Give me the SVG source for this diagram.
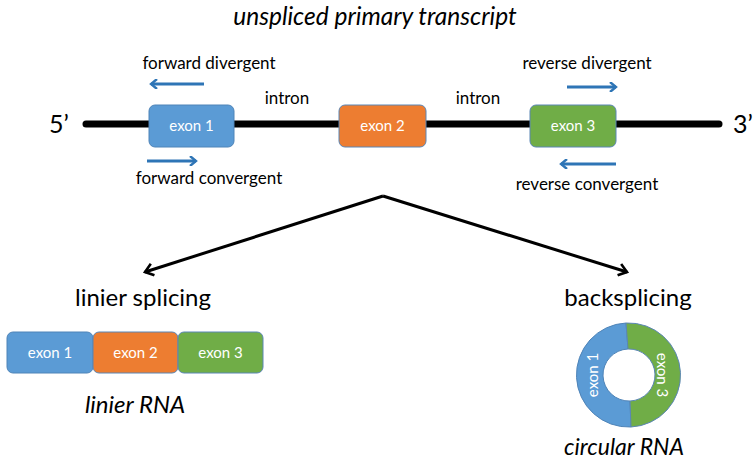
<svg xmlns="http://www.w3.org/2000/svg" width="753" height="462" viewBox="0 0 753 462">
<defs>
<style>
text{font-family:Lato,"Open Sans","Liberation Sans",sans-serif;fill:#000}
.t{font-size:17px;text-anchor:middle}
.big{font-size:24px;text-anchor:middle}
.it{font-style:italic}
.ex{font-size:15px;fill:#fff;text-anchor:middle}
.blue{fill:#5B9BD5;stroke:#4F84B8;stroke-width:1}
.orange{fill:#ED7D31;stroke:#5B86B5;stroke-width:1}
.green{fill:#70AD47;stroke:#5B86B5;stroke-width:1}
.pa{stroke:#2E75B6;stroke-width:3;fill:none;marker-end:url(#pb)}
.ka{stroke:#000;stroke-width:3;fill:none;marker-end:url(#kb)}
</style>
<marker id="pb" markerWidth="10" markerHeight="10" refX="8" refY="5" orient="auto" markerUnits="userSpaceOnUse" viewBox="0 0 10 10">
<path d="M2,0 L8,5 L2,10" fill="none" stroke="#2E75B6" stroke-width="2.4"/>
</marker>
<marker id="kb" markerWidth="14" markerHeight="14" refX="11" refY="7" orient="auto" markerUnits="userSpaceOnUse" viewBox="0 0 14 14">
<path d="M3,1 L11,7 L3,13" fill="none" stroke="#000" stroke-width="2.6"/>
</marker>
</defs>
<rect width="753" height="462" fill="#fff"/>
<text class="big it" x="375" y="25" style="font-size:24.5px">unspliced primary transcript</text>
<g id="transcript">
<line x1="86" y1="124" x2="719" y2="124" stroke="#000" stroke-width="7" stroke-linecap="round"/>
<text x="49" y="133" style="font-size:25px">5’</text>
<text x="733" y="133" style="font-size:25px">3’</text>
<text class="t" x="287" y="104">intron</text>
<text class="t" x="478" y="104">intron</text>
</g>
<g id="exon1">
<rect class="blue" x="149" y="105" width="85" height="42" rx="6"/>
<text class="ex" x="191.5" y="131">exon 1</text>
</g>
<g id="exon2">
<rect class="orange" x="339" y="105" width="87" height="42" rx="6"/>
<text class="ex" x="382.5" y="131">exon 2</text>
</g>
<g id="exon3">
<rect class="green" x="530" y="105" width="86" height="42" rx="6"/>
<text class="ex" x="573" y="131">exon 3</text>
</g>
<g id="primers">
<text class="t" x="209" y="69">forward divergent</text>
<text class="t" x="209" y="184">forward convergent</text>
<text class="t" x="587" y="69">reverse divergent</text>
<text class="t" x="587" y="190">reverse convergent</text>
</g>
<g id="connectors">
<line class="pa" x1="204" y1="84" x2="151" y2="84"/>
<line class="pa" x1="147" y1="161" x2="196" y2="161"/>
<line class="pa" x1="567" y1="87" x2="616" y2="87"/>
<line class="pa" x1="616" y1="164" x2="561" y2="164"/>
<line class="ka" x1="383" y1="196" x2="145" y2="272"/>
<line class="ka" x1="383" y1="196" x2="627" y2="272"/>
</g>
<g id="linear">
<text class="big" x="143" y="306">linier splicing</text>
<rect class="blue" x="7" y="332" width="86" height="41" rx="6"/>
<text class="ex" x="50" y="358">exon 1</text>
<rect class="orange" x="93" y="332" width="85" height="41" rx="6"/>
<text class="ex" x="135.5" y="358">exon 2</text>
<rect class="green" x="178" y="332" width="85" height="41" rx="6"/>
<text class="ex" x="220.5" y="358">exon 3</text>
<text class="big it" x="135" y="413">linier RNA</text>
</g>
<g id="circular">
<text class="big" x="628" y="306">backsplicing</text>
<path class="blue" d="M626,323 A52,52 0 0 0 631,427 L630,401 A26,26 0 0 1 628,349 Z"/>
<path class="green" d="M626,323 A52,52 0 0 1 631,427 L630,401 A26,26 0 0 0 628,349 Z"/>
<text class="ex" transform="translate(598,375) rotate(-90)">exon 1</text>
<text class="ex" transform="translate(657,375) rotate(90)">exon 3</text>
<text class="big it" x="624" y="455" style="font-size:23px">circular RNA</text>
</g>
</svg>
